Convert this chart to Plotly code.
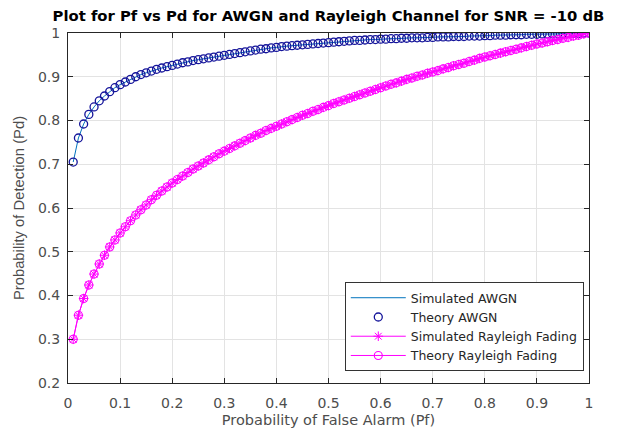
import plotly.graph_objects as go

pf = [round(0.01 * i, 2) for i in range(1, 101)]

pd_awgn = [0.705, 0.760, 0.792, 0.814, 0.831, 0.845, 0.856, 0.866, 0.875, 0.882,
           0.888, 0.894, 0.900, 0.905, 0.909, 0.913, 0.917, 0.920, 0.923, 0.926,
           0.929, 0.932, 0.934, 0.937, 0.939, 0.941, 0.943, 0.945, 0.947, 0.949,
           0.951, 0.953, 0.955, 0.957, 0.959, 0.961, 0.963, 0.964, 0.966, 0.967,
           0.969, 0.970, 0.971, 0.972, 0.973, 0.974, 0.975, 0.976, 0.977, 0.978,
           0.979, 0.980, 0.981, 0.982, 0.983, 0.983, 0.984, 0.985, 0.985, 0.986,
           0.986, 0.987, 0.987, 0.988, 0.988, 0.989, 0.989, 0.989, 0.990, 0.990,
           0.991, 0.991, 0.991, 0.992, 0.992, 0.992, 0.993, 0.993, 0.993, 0.994,
           0.994, 0.995, 0.995, 0.995, 0.996, 0.996, 0.996, 0.997, 0.997, 0.997,
           0.998, 0.998, 0.998, 0.998, 0.999, 0.999, 0.999, 0.999, 1.000, 1.000]

pd_rayleigh = [0.300, 0.355, 0.393, 0.424, 0.449, 0.472, 0.492, 0.511, 0.527, 0.543,
               0.557, 0.571, 0.584, 0.596, 0.607, 0.619, 0.629, 0.639, 0.648, 0.657,
               0.665, 0.673, 0.681, 0.689, 0.696, 0.703, 0.710, 0.717, 0.724, 0.730,
               0.736, 0.742, 0.748, 0.754, 0.760, 0.766, 0.771, 0.777, 0.782, 0.787,
               0.792, 0.797, 0.802, 0.807, 0.812, 0.816, 0.821, 0.825, 0.830, 0.834,
               0.839, 0.843, 0.847, 0.851, 0.855, 0.859, 0.863, 0.867, 0.871, 0.875,
               0.879, 0.883, 0.886, 0.890, 0.894, 0.897, 0.901, 0.904, 0.908, 0.911,
               0.914, 0.918, 0.921, 0.925, 0.928, 0.931, 0.935, 0.938, 0.942, 0.945,
               0.948, 0.951, 0.954, 0.957, 0.960, 0.963, 0.966, 0.969, 0.972, 0.975,
               0.977, 0.980, 0.983, 0.985, 0.988, 0.990, 0.993, 0.995, 0.998, 1.000]

pd_rayleigh_sim = list(pd_rayleigh)

x_ticks = [0, 0.1, 0.2, 0.3, 0.4, 0.5, 0.6, 0.7, 0.8, 0.9, 1]
x_labels = ["0", "0.1", "0.2", "0.3", "0.4", "0.5", "0.6", "0.7", "0.8", "0.9", "1"]
y_ticks = [0.2, 0.3, 0.4, 0.5, 0.6, 0.7, 0.8, 0.9, 1]
y_labels = ["0.2", "0.3", "0.4", "0.5", "0.6", "0.7", "0.8", "0.9", "1"]

BLUE_LINE = "#0072BD"
BLUE_MARK = "#14149a"
MAG = "#FF00FF"
TXT = "#262626"
GRAY = "#4d4d4d"
WIDE = "DejaVu Sans, Verdana, sans-serif"
NARROW = "Liberation Sans, Arial, sans-serif"

fig = go.Figure()
fig.add_trace(go.Scatter(x=pf, y=pd_awgn, mode="lines", name="Simulated AWGN",
                         line=dict(color=BLUE_LINE, width=1)))
fig.add_trace(go.Scatter(x=pf, y=pd_awgn, mode="markers", name="Theory AWGN",
                         marker=dict(symbol="circle-open", size=8, color=BLUE_MARK,
                                     line=dict(width=1.3, color=BLUE_MARK))))
fig.add_trace(go.Scatter(x=pf, y=pd_rayleigh_sim, mode="lines+markers",
                         name="Simulated Rayleigh Fading",
                         line=dict(color=MAG, width=1),
                         marker=dict(symbol="asterisk-open", size=8, color=MAG,
                                     line=dict(width=1, color=MAG))))
fig.add_trace(go.Scatter(x=pf, y=pd_rayleigh, mode="lines+markers",
                         name="Theory Rayleigh Fading",
                         line=dict(color=MAG, width=1),
                         marker=dict(symbol="circle-open", size=8, color=MAG,
                                     line=dict(width=1.1, color=MAG))))

axis_common = dict(showline=True, linecolor=TXT, linewidth=1, mirror="ticks",
                   ticks="inside", ticklen=5, tickcolor=TXT, automargin=False,
                   showgrid=True, gridcolor="#e3e3e3", gridwidth=1,
                   zeroline=False, tickfont=dict(size=14, color=GRAY, family=WIDE))

fig.update_xaxes(range=[0, 1], tickvals=x_ticks, ticktext=x_labels,
                 ticklabelstandoff=7,
                 title=dict(text="Probability of False Alarm (Pf)",
                            font=dict(size=14.5, color=GRAY, family=WIDE), standoff=6),
                 **axis_common)
fig.update_yaxes(range=[0.2, 1], tickvals=y_ticks, ticktext=y_labels,
                 ticklabelstandoff=4,
                 title=dict(text="Probability of Detection (Pd)",
                            font=dict(size=14.8, color=GRAY, family=NARROW), standoff=9),
                 **axis_common)

fig.update_layout(
    width=617, height=428,
    margin=dict(l=68, r=28, t=33, b=45),
    paper_bgcolor="white", plot_bgcolor="white",
    title=dict(text="<b>Plot for Pf vs Pd for AWGN and Rayleigh Channel for SNR = -10 dB</b>",
               xref="paper", x=0.5, xanchor="center",
               yref="container", y=0.964, yanchor="middle",
               font=dict(size=14.8, color="black", family=WIDE)),
    legend=dict(x=0.99, y=0.034, xanchor="right", yanchor="bottom",
                bgcolor="white", bordercolor="#333333", borderwidth=1,
                font=dict(size=12.5, color=TXT, family=WIDE),
                tracegroupgap=0, itemwidth=55),
    showlegend=True,
)

fig.write_html("out.html")
